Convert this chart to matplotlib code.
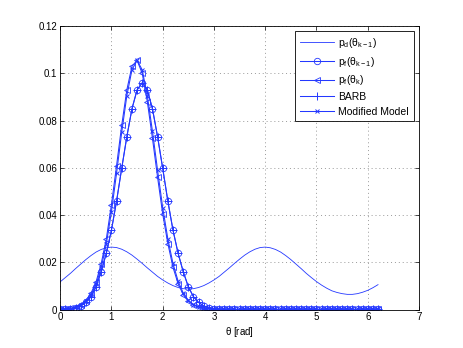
import numpy as np
import matplotlib
matplotlib.use('Agg')
import matplotlib.pyplot as plt

plt.rcParams['font.family'] = ['Liberation Sans', 'DejaVu Sans']
plt.rcParams['mathtext.fontset'] = 'custom'
plt.rcParams['mathtext.rm'] = 'Liberation Sans'
plt.rcParams['mathtext.it'] = 'Liberation Sans:italic'

# angle grid 0 : 0.1 : 6.2
theta = np.arange(63) / 10.0

# p_d(theta_{k-1})
p_d = [0.0118, 0.0136, 0.0154, 0.0174, 0.0193, 0.0212, 0.0229, 0.0244, 0.0255, 0.0262,
       0.0265, 0.0263, 0.0256, 0.0245, 0.0231, 0.0214, 0.0196, 0.0177, 0.0159, 0.0141,
       0.0126, 0.0113, 0.0102, 0.0094, 0.0089, 0.0088, 0.0089, 0.0094, 0.0102, 0.0113,
       0.0126, 0.0141, 0.0159, 0.0177, 0.0196, 0.0214, 0.0231, 0.0245, 0.0256, 0.0263,
       0.0265, 0.0262, 0.0255, 0.0244, 0.0229, 0.0212, 0.0193, 0.0174, 0.0154, 0.0136,
       0.0119, 0.0104, 0.0091, 0.0080, 0.0073, 0.0068, 0.0065, 0.0065, 0.0068, 0.0074,
       0.0082, 0.0093, 0.0106]

# p_f(theta_{k-1})
p_f_prev = [0.0002, 0.0002, 0.0004, 0.0008, 0.0016, 0.0031, 0.0055, 0.0097, 0.0161, 0.0239,
            0.0337, 0.0460, 0.0598, 0.0732, 0.0850, 0.0930, 0.0960, 0.0930, 0.0850, 0.0732,
            0.0598, 0.0460, 0.0337, 0.0239, 0.0161, 0.0097, 0.0055, 0.0031, 0.0016, 0.0008,
            0.0004, 0.0002, 0.0001, 0.0001, 0.0001, 0.0001, 0.0001, 0.0001, 0.0001, 0.0001,
            0.0001, 0.0001, 0.0001, 0.0001, 0.0001, 0.0001, 0.0001, 0.0001, 0.0001, 0.0001,
            0.0001, 0.0001, 0.0001, 0.0001, 0.0001, 0.0001, 0.0001, 0.0001, 0.0001, 0.0001,
            0.0001, 0.0001, 0.0001]

# p_f(theta_k)
p_f_cur = [0.0002, 0.0003, 0.0006, 0.0011, 0.0021, 0.0039, 0.0069, 0.0118, 0.0195, 0.0300,
           0.0445, 0.0610, 0.0780, 0.0930, 0.1030, 0.1055, 0.1000, 0.0880, 0.0725, 0.0560,
           0.0405, 0.0280, 0.0180, 0.0110, 0.0064, 0.0036, 0.0020, 0.0011, 0.0006, 0.0003,
           0.0002, 0.0001, 0.0001, 0.0001, 0.0001, 0.0001, 0.0001, 0.0001, 0.0001, 0.0001,
           0.0001, 0.0001, 0.0001, 0.0001, 0.0001, 0.0001, 0.0001, 0.0001, 0.0001, 0.0001,
           0.0001, 0.0001, 0.0001, 0.0001, 0.0001, 0.0001, 0.0001, 0.0001, 0.0001, 0.0001,
           0.0001, 0.0001, 0.0001]

# BARB
barb = [0.0002, 0.0002, 0.0004, 0.0008, 0.0016, 0.0031, 0.0055, 0.0097, 0.0161, 0.0239,
        0.0337, 0.0460, 0.0598, 0.0732, 0.0850, 0.0930, 0.0960, 0.0930, 0.0850, 0.0732,
        0.0598, 0.0460, 0.0337, 0.0239, 0.0161, 0.0097, 0.0055, 0.0031, 0.0016, 0.0008,
        0.0004, 0.0002, 0.0001, 0.0001, 0.0001, 0.0001, 0.0001, 0.0001, 0.0001, 0.0001,
        0.0001, 0.0001, 0.0001, 0.0001, 0.0001, 0.0001, 0.0001, 0.0001, 0.0001, 0.0001,
        0.0001, 0.0001, 0.0001, 0.0001, 0.0001, 0.0001, 0.0001, 0.0001, 0.0001, 0.0001,
        0.0001, 0.0001, 0.0001]

# Modified Model
modified = [0.0002, 0.0003, 0.0005, 0.0010, 0.0019, 0.0035, 0.0062, 0.0107, 0.0178, 0.0278,
            0.0415, 0.0578, 0.0750, 0.0905, 0.1015, 0.1055, 0.1015, 0.0905, 0.0755, 0.0590,
            0.0432, 0.0300, 0.0196, 0.0121, 0.0071, 0.0040, 0.0022, 0.0012, 0.0007, 0.0004,
            0.0002, 0.0001, 0.0001, 0.0001, 0.0001, 0.0001, 0.0001, 0.0001, 0.0001, 0.0001,
            0.0001, 0.0001, 0.0001, 0.0001, 0.0001, 0.0001, 0.0001, 0.0001, 0.0001, 0.0001,
            0.0001, 0.0001, 0.0001, 0.0001, 0.0001, 0.0001, 0.0001, 0.0001, 0.0001, 0.0001,
            0.0001, 0.0001, 0.0001]

labels = [r'$\mathregular{p_d(\theta_{k-1})}$',
          r'$\mathregular{p_f(\theta_{k-1})}$',
          r'$\mathregular{p_f(\theta_k)}$',
          'BARB',
          'Modified Model']

fig = plt.figure(figsize=(4.63, 3.48), dpi=100)
ax = fig.add_axes([0.13, 0.11, 0.775, 0.815])

blue = '#2438ff'
ms = 4.6
ax.plot(theta, p_d, color=blue, lw=0.6, label=labels[0])
ax.plot(theta, p_f_prev, color=blue, lw=0.75, marker='o', ms=ms, mfc='none', mew=0.6, label=labels[1])
ax.plot(theta, p_f_cur, color=blue, lw=0.75, marker='<', ms=ms, mfc='none', mew=0.6, label=labels[2])
ax.plot(theta, barb, color=blue, lw=0.75, marker='+', ms=ms + 1, mew=0.7, label=labels[3])
ax.plot(theta, modified, color=blue, lw=0.75, marker='x', ms=ms - 1.2, mew=0.7, label=labels[4])

ax.set_xlim(0, 7)
ax.set_ylim(0, 0.12)
ax.set_xticks(range(8))
ax.set_yticks([0, 0.02, 0.04, 0.06, 0.08, 0.1, 0.12])
ax.set_yticklabels(['0', '0.02', '0.04', '0.06', '0.08', '0.1', '0.12'])
ax.grid(True, linestyle=(0, (1, 3)), color='0.6', lw=0.7)
ax.tick_params(direction='in', top=True, right=True, labelsize=7, length=3, width=0.5, pad=2)
for s in ax.spines.values():
    s.set_linewidth(0.6)
ax.set_xlabel(r'$\mathregular{\theta}$ [rad]', fontsize=7, labelpad=2)

leg = ax.legend(loc='upper right', fontsize=7.5, handlelength=3.3, handletextpad=0.4,
                fancybox=False, framealpha=1, edgecolor='k', borderaxespad=0.5,
                labelspacing=0.45, borderpad=0.45)
leg.get_frame().set_linewidth(0.6)

fig.savefig('out.png', dpi=100)
